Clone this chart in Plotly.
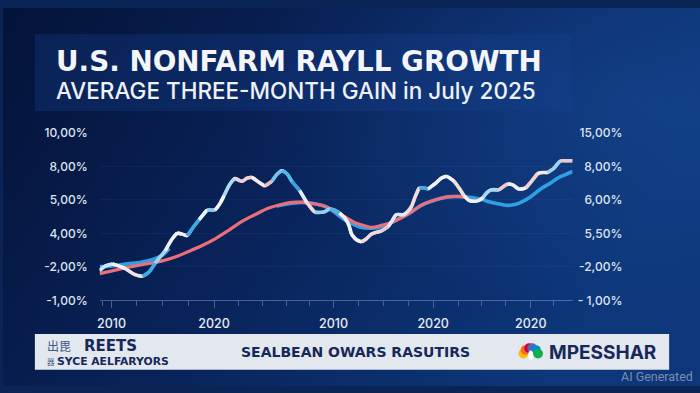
import base64
import math
import plotly.graph_objects as go

# ---------------- data ----------------
period = [0, 1.2, 2.6, 3.8, 5.2, 7.0, 8.6, 10.0, 11.2, 13.2, 14.6, 15.6, 16.6, 17.6, 18.8, 20.0,
          21.6, 23.2, 24.2, 25.0, 26.2, 27.2, 28.6, 29.6, 30.6, 32.0, 33.2, 34.6, 35.6, 36.6, 37.6,
          38.6, 40.2, 41.6, 43.2, 45.0, 46.2, 47.2, 48.2, 49.2, 50.0, 50.6, 51.6, 52.6, 53.6, 54.6,
          56.6, 58.0, 58.8, 59.6, 61.0, 61.8, 62.6, 63.4, 64.2, 65.2, 66.0, 66.8, 67.6, 68.6, 69.6,
          70.4, 71.2, 72.2, 73.2, 74.2, 75.2, 76.2, 77.0, 77.8, 78.6, 80.2, 81.0, 82.0, 83.0, 84.2,
          85.6, 86.6, 88.0, 89.0, 90.0, 90.6, 91.2, 92.0, 92.6, 93.8, 95.0]
actual_gain = [0.89, 1.03, 1.09, 1.03, 0.95, 0.78, 0.72, 0.86, 1.12, 1.49, 1.84, 2.01, 1.98, 1.93,
               2.18, 2.41, 2.70, 2.70, 2.90, 3.13, 3.48, 3.65, 3.56, 3.65, 3.68, 3.53, 3.42, 3.56,
               3.76, 3.88, 3.79, 3.56, 3.28, 2.93, 2.64, 2.64, 2.73, 2.70, 2.61, 2.47, 2.27, 1.98,
               1.81, 1.75, 1.84, 1.98, 2.07, 2.21, 2.39, 2.56, 2.56, 2.64, 2.79, 3.10, 3.36, 3.36,
               3.33, 3.42, 3.51, 3.65, 3.71, 3.65, 3.56, 3.36, 3.13, 2.99, 2.96, 2.99, 3.07, 3.22,
               3.30, 3.30, 3.39, 3.48, 3.45, 3.33, 3.36, 3.53, 3.79, 3.82, 3.82, 3.88, 3.94, 4.08,
               4.17, 4.17, 4.17]

trend_red_period = [0, 3.6, 7.2, 10.6, 12.6, 15.6, 18.0, 20.6, 23.2, 26.0, 28.6, 31.2, 34.0, 36.6,
                    38.6, 40.6, 42.6, 44.6, 47.2, 49.2, 51.2, 53.0, 54.6, 56.6, 58.6, 60.6, 62.6,
                    64.6, 66.0, 68.6, 70.6, 72.6, 74.0]
trend_red = [0.80, 0.92, 1.03, 1.12, 1.18, 1.32, 1.47, 1.64, 1.84, 2.10, 2.36, 2.56, 2.76, 2.87,
             2.93, 2.93, 2.90, 2.84, 2.67, 2.50, 2.33, 2.24, 2.18, 2.24, 2.33, 2.47, 2.64, 2.84,
             2.93, 3.05, 3.10, 3.10, 3.07]

trend_blue_period = [0, 2.6, 5.6, 8.6, 11.0, 12.6, 14.0, 25.0,
                     35.6, 38.6, 40.6, 42.6, 44.6, 46.0, 47.6, 49.2, 51.0, 52.6, 54.6, 56.0, 58.2,
                     60.6, 62.6, 64.6, 66.6, 68.6, 70.6, 72.6, 74.6, 76.6, 78.6, 80.6, 82.0, 83.6,
                     85.0, 86.6, 88.6, 90.6, 92.0, 93.6, 95.0]
trend_blue = [1.01, 1.03, 1.09, 1.15, 1.24, 1.35, 1.55, None,
              2.82, 2.90, 2.93, 2.90, 2.84, 2.76, 2.59, 2.41, 2.27, 2.18, 2.16, 2.18, 2.30,
              2.47, 2.64, 2.84, 2.96, 3.05, 3.10, 3.10, 3.07, 3.02, 2.93, 2.87, 2.84, 2.87,
              2.96, 3.10, 3.33, 3.51, 3.65, 3.76, 3.85]

x_major = [2.4, 23.0, 47.0, 67.0, 86.6]
x_labels = ["2010", "2020", "2010", "2020", "2020"]
x_minor = [0.6, 7.4, 12.6, 17.8, 28.0, 32.8, 37.6, 42.2, 52.0, 57.0, 62.0, 72.0, 76.8, 81.6, 91.2]

y_ticks = [0, 1, 2, 3, 4, 5]
left_labels = ["-1,00%", "-2,00%", "4,00%", "5,00%", "8,00%", "10,00%"]
right_labels = ["- 1,00%", "-2,00%", "5,50%", "6,00%", "8,00%", "15,00%"]

title_text = "U.S. NONFARM RAYLL GROWTH"
subtitle_text = "AVERAGE THREE-MONTH GAIN in July 2025"

# ---------------- styling ----------------
W, H = 700, 393
def px(x): return x / W
def py(y): return 1 - y / H

FONT = "Inter"
WIDE = "DejaVu Sans"

# colour stops along the wiggly line (period -> colour)
color_stops = [(0, "#cfe3f6"), (2.6, "#f4f2f4"), (5.2, "#efe3ea"), (8.0, "#3aaee6"),
               (11.2, "#9bd6f2"), (13.2, "#eef2f6"), (15.6, "#f5eef0"), (17.6, "#3ca8e4"),
               (20.0, "#eaf2f8"), (21.6, "#86ccef"), (23.2, "#f2f4f8"), (25.0, "#a7dbf3"),
               (27.2, "#f2cdd2"), (30.6, "#f4eef0"), (33.2, "#eebcc0"), (34.6, "#6fc5ed"),
               (36.6, "#48bde9"), (38.6, "#3a9fe0"), (40.2, "#e9eef6"), (41.6, "#f0d6da"),
               (43.2, "#8fd0ef"), (46.2, "#4ab5e8"), (48.2, "#eef2f7"), (50.6, "#f5f3f2"),
               (52.6, "#f1d9d9"), (55.0, "#e7c9cf"), (58.0, "#dfe9f4"), (61.8, "#f2dadd"),
               (64.2, "#4aa8e6"), (66.0, "#eef3f8"), (69.6, "#f6f2f2"), (71.2, "#f2dcdc"),
               (73.2, "#f3f0f0"), (77.0, "#a9d7f0"), (79.0, "#f0c4c8"), (82.0, "#f2eef0"),
               (85.6, "#efd2d4"), (88.0, "#f3eaea"), (90.0, "#9cd2ef"), (92.6, "#f2c9c9"),
               (94.0, "#f5e9df")]

svg = f"""<svg xmlns='http://www.w3.org/2000/svg' width='{W}' height='{H}'>
<defs>
<linearGradient id='g' x1='0' y1='0' x2='1' y2='0.35'>
<stop offset='0' stop-color='#041338'/>
<stop offset='0.5' stop-color='#09235a'/>
<stop offset='1' stop-color='#0d377a'/>
</linearGradient>
<radialGradient id='r' cx='0.9' cy='0.25' r='0.55'>
<stop offset='0' stop-color='#1b52a0' stop-opacity='0.4'/>
<stop offset='1' stop-color='#1b52a0' stop-opacity='0'/>
</radialGradient>
</defs>
<rect width='{W}' height='{H}' fill='url(#g)'/>
<rect width='{W}' height='{H}' fill='url(#r)'/>
</svg>"""
bg_uri = "data:image/svg+xml;base64," + base64.b64encode(svg.encode()).decode()

fig = go.Figure()

# trend lines
fig.add_trace(go.Scatter(x=trend_blue_period, y=trend_blue, mode="lines",
                         line=dict(color="#2f9fe6", width=3.6, shape="spline", smoothing=1.0),
                         connectgaps=False, hoverinfo="skip"))
fig.add_trace(go.Scatter(x=trend_red_period, y=trend_red, mode="lines",
                         line=dict(color="#ea6f7b", width=3.2, shape="spline", smoothing=1.0),
                         hoverinfo="skip"))

# base wiggly line
fig.add_trace(go.Scatter(x=period, y=actual_gain, mode="lines",
                         line=dict(color="#eef0f5", width=3.0, shape="spline", smoothing=0.9),
                         hoverinfo="skip"))

# coloured runs on top of the wiggly line
stop_x = [s[0] for s in color_stops]
for k, (sx, col) in enumerate(color_stops):
    ex = stop_x[k + 1] if k + 1 < len(stop_x) else 1e9
    idx = [i for i, xv in enumerate(period) if sx <= xv < ex]
    if not idx:
        continue
    i0 = idx[0]
    i1 = min(idx[-1] + 1, len(period) - 1)
    fig.add_trace(go.Scatter(x=period[i0:i1 + 1], y=actual_gain[i0:i1 + 1], mode="lines",
                             line=dict(color=col, width=3.6, shape="spline", smoothing=0.9),
                             hoverinfo="skip"))

# anchor trace for right axis
fig.add_trace(go.Scatter(x=[x_major[0]], y=[0], yaxis="y2", mode="markers",
                         marker=dict(opacity=0), hoverinfo="skip"))

tick_col = "rgba(120,145,200,0.55)"
fig.update_layout(
    width=W, height=H, autosize=False,
    margin=dict(l=0, r=0, t=0, b=0),
    paper_bgcolor="#0a2456", plot_bgcolor="rgba(0,0,0,0)",
    showlegend=False, hovermode=False,
    font=dict(family=FONT, color="#dfe5f0"),
    xaxis=dict(domain=[px(97), px(572)], range=[0, 95], showgrid=False, zeroline=False,
               showline=True, linecolor=tick_col, linewidth=1,
               ticks="outside", ticklen=7, tickcolor=tick_col, tickwidth=1,
               tickmode="array", tickvals=x_major, ticktext=x_labels,
               tickfont=dict(size=12.5, color="#e6ebf3", weight=500), ticklabelstandoff=5,
               minor=dict(tickmode="array", tickvals=x_minor, ticks="outside", ticklen=5,
                          tickcolor=tick_col, showgrid=False),
               fixedrange=True),
    yaxis=dict(domain=[1 - 304 / H, 1 - 130 / H], range=[0, 5], zeroline=False,
               showgrid=True, gridcolor="rgba(120,150,210,0.07)", gridwidth=1,
               tickmode="array", tickvals=y_ticks, ticktext=left_labels,
               tickfont=dict(size=12, color="#dfe5f0", weight=500), ticklabelstandoff=11,
               fixedrange=True),
    yaxis2=dict(overlaying="y", anchor="free", position=px(624), side="left",
                range=[0, 5], zeroline=False, showgrid=False, showline=False,
                tickmode="array", tickvals=y_ticks, ticktext=right_labels,
                tickfont=dict(size=12, color="#dfe5f0", weight=500), ticklabelstandoff=2,
                fixedrange=True),
    images=[dict(source=bg_uri, xref="paper", yref="paper", x=0, y=1, sizex=1, sizey=1,
                 sizing="stretch", layer="below", xanchor="left", yanchor="top")],
)

shapes = [
    # title panel
    dict(type="rect", xref="paper", yref="paper", x0=px(32), x1=px(571), y0=py(107), y1=py(27),
         fillcolor="rgba(24,66,145,0.30)", line=dict(width=0), layer="below"),
    # footer bar
    dict(type="rect", xref="paper", yref="paper", x0=px(32), x1=px(669), y0=py(376), y1=py(339),
         fillcolor="#e3e7ee", line=dict(width=0)),
]
# peacock style logo feathers
feather_cols = ["#fcb711", "#f37021", "#cc004c", "#6460aa", "#0089d0", "#0db14b"]
feather_ang = [168, 133, 102, 78, 47, 12]
cx, cy = 530, 361
for ang, col in zip(feather_ang, feather_cols):
    fx = cx + 7.5 * math.cos(math.radians(ang))
    fy = cy - 7.5 * math.sin(math.radians(ang))
    shapes.append(dict(type="circle", xref="paper", yref="paper",
                       x0=px(fx - 5), x1=px(fx + 5), y0=py(fy + 5), y1=py(fy - 5),
                       fillcolor=col, line=dict(width=0)))
shapes.append(dict(type="circle", xref="paper", yref="paper", x0=px(527.5), x1=px(532.5),
                   y0=py(366), y1=py(356), fillcolor="#ffffff", line=dict(width=0)))
fig.update_layout(shapes=shapes)

navy = "#17285a"
ann = [
    dict(text=title_text, x=px(51), y=py(56), xanchor="left", yanchor="middle",
         font=dict(size=27.8, color="#f3f5f9", family=WIDE, weight=700)),
    dict(text=subtitle_text, x=px(51), y=py(86), xanchor="left", yanchor="middle",
         font=dict(size=22.5, color="#eef1f6", family=FONT, weight=500)),
    dict(text="REETS", x=px(79), y=py(351), xanchor="left", yanchor="middle",
         font=dict(size=15, color=navy, family=WIDE, weight=700)),
    dict(text="SYCE AELFARYORS", x=px(52), y=py(368), xanchor="left", yanchor="middle",
         font=dict(size=10.8, color=navy, family=WIDE, weight=700)),
    dict(text="出毘", x=px(42), y=py(351), xanchor="left", yanchor="middle",
         font=dict(size=12, color="#44578c", family="Noto Sans CJK SC")),
    dict(text="器", x=px(42), y=py(368), xanchor="left", yanchor="middle",
         font=dict(size=7.5, color="#44578c", family="Noto Sans CJK SC")),
    dict(text="SEALBEAN OWARS RASUTIRS", x=px(354), y=py(358), xanchor="center",
         yanchor="middle", font=dict(size=14, color=navy, family=WIDE, weight=700)),
    dict(text="MPESSHAR", x=px(546), y=py(358), xanchor="left", yanchor="middle",
         font=dict(size=19, color=navy, family=FONT, weight=700)),
    dict(text="AI Generated", x=px(695), y=py(383), xanchor="right", yanchor="middle",
         font=dict(size=12.5, color="#7d8db0", family="Roboto")),
]
for a in ann:
    a.update(xref="paper", yref="paper", showarrow=False)
fig.update_layout(annotations=ann)

fig.write_html("out.html", config=dict(displayModeBar=False),
               post_script="document.body.style.margin='0';document.body.style.overflow='hidden';")
